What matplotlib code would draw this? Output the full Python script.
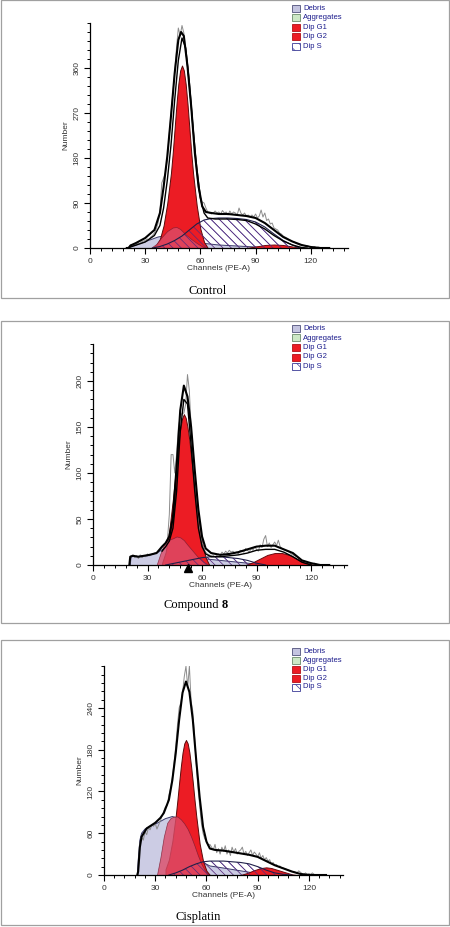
import matplotlib
matplotlib.use("Agg")
import matplotlib.pyplot as plt
from matplotlib.patches import Rectangle
from matplotlib.ticker import MultipleLocator
import numpy as np

W_PX, H_PX = 450, 927

# ---------------- Control ----------------
ctrl_raw = [0, 2, 6, 5, 8, 7, 10, 9, 12, 14, 15, 18, 17, 22, 25, 30, 38, 50, 72, 130,
            140, 150, 178, 225, 268, 310, 350, 400, 440, 425, 445, 430, 395, 365, 320, 285, 240, 190, 150, 118,
            100, 92, 90, 80, 72, 70, 68, 70, 74, 70, 72, 68, 75, 70, 72, 66, 74, 68, 72, 70,
            66, 80, 70, 66, 70, 64, 66, 62, 66, 62, 68, 60, 64, 76, 62, 70, 55, 58, 48, 50,
            40, 38, 36, 30, 28, 24, 22, 20, 17, 15, 13, 12, 9, 8, 6, 7, 5, 4, 5, 3,
            3, 2, 3, 1, 2, 1, 1, 0, 0]
ctrl_outer_ch = [20, 21, 22, 25, 30, 35, 38, 40, 42, 44, 46, 48, 49.5, 51, 53, 55, 57, 59, 61, 63,
                 66, 70, 75, 80, 85, 90, 95, 100, 105, 110, 115, 120, 125, 130]
ctrl_outer = [0, 0, 5, 10, 20, 36, 70, 122, 183, 263, 349, 416, 432, 424, 363, 283, 189, 123, 83, 72,
              70, 68, 68, 66, 64, 60, 50, 36, 22, 13, 6, 2, 0, 0]
ctrl_inner_ch = [22, 30, 35, 38, 40, 42, 44, 46, 48, 50, 52, 54, 56, 58, 60, 62, 64, 68, 75, 80,
                 85, 90, 95, 100, 105, 110, 115, 118]
ctrl_inner = [2, 12, 25, 45, 80, 135, 205, 295, 375, 420, 400, 330, 240, 160, 100, 70, 60, 58, 58, 57,
              55, 48, 38, 25, 14, 6, 1, 0]
ctrl_g1_ch = [34, 36, 38, 40, 42, 44, 45, 46, 47, 48, 49, 50, 51, 52, 53, 54, 55, 56, 58, 60, 62, 64]
ctrl_g1 = [0, 6, 18, 45, 90, 150, 192, 240, 288, 328, 355, 365, 355, 328, 288, 240, 192, 150, 85, 38, 12, 0]
ctrl_pink_ch = [33, 36, 39, 42, 45, 47, 49, 52, 55, 58, 61, 63]
ctrl_pink = [0, 8, 22, 34, 41, 42, 38, 27, 18, 10, 3, 0]
ctrl_debris_ch = [21, 22, 25, 28, 31, 34, 37, 40, 45, 50, 55, 60, 70, 80, 90, 95]
ctrl_debris = [0, 3, 6, 10, 14, 18, 22, 24, 22, 18, 14, 10, 6, 4, 2, 0]
ctrl_s_ch = [34, 38, 42, 46, 50, 54, 58, 62, 66, 70, 75, 80, 85, 90, 95, 100, 105, 110, 114]
ctrl_s = [0, 3, 8, 15, 24, 36, 48, 56, 59, 60, 60, 59, 57, 52, 42, 28, 15, 6, 0]
ctrl_g2_ch = [85, 90, 95, 100, 105, 110, 115]
ctrl_g2 = [0, 3, 6, 7, 6, 3, 0]
ctrl_yticks = [0, 90, 180, 270, 360]

# ---------------- Compound 8 ----------------
cmp_raw = [0, 10, 11, 8, 10, 7, 11, 8, 10, 9, 12, 10, 11, 12, 13, 13, 15, 17, 19, 22,
           24, 28, 55, 120, 120, 100, 120, 150, 160, 165, 165, 175, 207, 190, 150, 115, 95, 70, 50, 35,
           25, 18, 14, 12, 11, 10, 11, 9, 10, 12, 11, 14, 12, 15, 13, 16, 14, 15, 13, 14,
           12, 16, 15, 14, 18, 16, 14, 18, 16, 20, 17, 15, 22, 19, 28, 32, 20, 24, 19, 22,
           25, 21, 27, 20, 18, 17, 16, 15, 14, 12, 11, 10, 9, 8, 6, 5, 4, 3, 3, 2,
           2, 1, 2, 1, 0, 0, 0, 0, 0]
cmp_outer_ch = [20, 20.5, 22, 25, 28, 31, 35, 38, 40, 42, 44, 46, 48, 50, 52, 54, 56, 58, 60, 62,
                65, 70, 75, 80, 85, 90, 95, 100, 105, 110, 115, 120, 125, 130]
cmp_outer = [0, 9, 10, 9, 10, 11, 13, 20, 24, 31, 52, 107, 168, 195, 183, 150, 103, 60, 31, 18,
             13, 11, 12, 14, 17, 20, 21, 21, 17, 13, 5, 2, 0, 0]
cmp_inner_ch = [38, 40, 42, 44, 46, 48, 50, 52, 54, 56, 58, 60, 62, 65, 70, 80, 85, 90, 95, 100,
                105, 110, 115, 120]
cmp_inner = [15, 20, 26, 40, 80, 145, 180, 175, 130, 80, 40, 20, 12, 9, 9, 11, 13, 16, 17, 17,
             14, 9, 3, 0]
cmp_g1_ch = [38, 40, 42, 44, 45, 46, 47, 48, 49, 50, 51, 52, 53, 54, 55, 56, 58, 60, 62, 64]
cmp_g1 = [2, 14, 38, 72, 92, 113, 132, 148, 159, 164, 160, 150, 136, 118, 100, 82, 50, 24, 8, 0]
cmp_pink_ch = [35, 37, 39, 41, 44, 46, 48, 50, 52, 55, 58, 61, 64]
cmp_pink = [0, 12, 22, 27, 29, 31, 30, 27, 22, 15, 8, 3, 0]
cmp_debris_ch = [20.5, 21, 24, 27, 30, 33, 36, 39, 42, 46, 50, 60, 70, 80, 90, 95]
cmp_debris = [0, 10, 9, 10, 10, 12, 14, 18, 22, 18, 12, 7, 5, 3, 1, 0]
cmp_s_ch = [40, 45, 50, 55, 60, 65, 70, 75, 80, 85, 90, 95]
cmp_s = [0, 2, 4, 6, 8, 9, 9, 8, 7, 5, 2, 0]
cmp_g2_ch = [84, 88, 92, 96, 100, 104, 108, 112, 116, 120, 122]
cmp_g2 = [0, 3, 7, 11, 13, 13, 11, 7, 3, 1, 0]
cmp_yticks = [0, 50, 100, 150, 200]
cmp_marker_ch = 52.5

# ---------------- Cisplatin ----------------
cis_raw = [0, 45, 55, 50, 62, 58, 68, 65, 72, 70, 74, 66, 72, 78, 85, 92, 98, 100, 115, 125,
           140, 160, 185, 215, 240, 248, 262, 285, 300, 270, 300, 250, 235, 200, 160, 125, 100, 75, 60, 52,
           48, 42, 44, 40, 36, 44, 32, 38, 30, 40, 34, 42, 30, 36, 28, 40, 33, 38, 30, 34,
           36, 40, 30, 34, 28, 32, 36, 28, 33, 30, 26, 32, 24, 28, 22, 25, 20, 22, 16, 18,
           14, 15, 12, 13, 10, 10, 9, 8, 7, 6, 5, 5, 4, 3, 6, 4, 2, 1, 3, 1,
           2, 1, 3, 1, 0, 0, 0, 0, 0]
cis_outer_ch = [19.5, 20, 21, 22, 25, 30, 33, 35, 38, 40, 42, 44, 46, 48, 50, 52, 54, 56, 58, 60,
                62, 65, 70, 75, 80, 85, 90, 95, 100, 105, 110, 115, 120, 125, 130]
cis_outer = [0, 5, 40, 55, 67, 75, 82, 89, 108, 136, 175, 223, 262, 278, 263, 223, 165, 112, 69, 48,
             38, 36, 35, 33, 31, 29, 26, 20, 14, 9.5, 5, 1.5, 0, 0, 0]
cis_g1_ch = [36, 38, 40, 42, 43, 44, 45, 46, 47, 48, 49, 50, 51, 52, 53, 54, 56, 58, 60, 62]
cis_g1 = [8, 22, 48, 85, 108, 133, 156, 176, 189, 194, 189, 176, 156, 133, 108, 85, 45, 20, 6, 0]
cis_pink_ch = [31, 33, 35, 37, 39, 41, 43, 45, 47, 49, 51, 53, 55, 57, 59, 61]
cis_pink = [0, 25, 55, 75, 82, 84, 84, 80, 74, 66, 55, 42, 28, 16, 7, 0]
cis_debris_ch = [19.5, 20, 21, 22, 24, 27, 30, 33, 36, 40, 43, 46, 50, 54, 58, 62, 70, 80, 90, 95]
cis_debris = [0, 20, 50, 60, 66, 70, 73, 77, 81, 84, 82, 72, 50, 30, 18, 13, 10, 6, 2, 0]
cis_s_ch = [38, 42, 46, 50, 54, 58, 62, 66, 70, 75, 80, 85, 90, 95, 100, 105, 110]
cis_s = [0, 3, 7, 12, 16, 19, 20, 20, 20, 19, 18, 16, 12, 7, 3, 1, 0]
cis_g2_ch = [80, 84, 88, 92, 95, 98, 102, 106, 110, 113]
cis_g2 = [0, 3, 7, 10, 11, 10, 7, 4, 1, 0]
cis_yticks = [0, 60, 120, 180, 240]

legend_names = ['Debris', 'Aggregates', 'Dip G1', 'Dip G2', 'Dip S']

LAV = '#c4c4e0'
RED = '#ec1c24'
PINK = '#dc4c68'
NAVY = '#3a3a96'
HATCH = '\\\\\\\\'

plt.rcParams['font.family'] = ['Liberation Sans', 'DejaVu Sans']
plt.rcParams['hatch.linewidth'] = 0.5

fig = plt.figure(figsize=(W_PX / 100, H_PX / 100), dpi=100)


def fx(x):
    return x / W_PX


def fy(y):
    return 1 - y / H_PX


def frame(y0, y1):
    fig.add_artist(Rectangle((fx(0.5), fy(y1)), fx(448.5), (y1 - y0) / H_PX,
                             transform=fig.transFigure, fill=False, ec='#a0a0a0', lw=0.9))


def legend(rows):
    for name, ry in zip(legend_names, rows):
        kw = dict(transform=fig.transFigure, lw=0.6)
        if name == 'Debris':
            kw.update(fc=LAV, ec='#50507a')
        elif name == 'Aggregates':
            kw.update(fc='#cde8c6', ec='#6a8a6a')
        elif name == 'Dip S':
            kw.update(fc='white', ec=NAVY, hatch='\\\\\\')
        else:
            kw.update(fc=RED, ec='#b01018')
        fig.add_artist(Rectangle((fx(292), fy(ry + 3.5)), 8 / W_PX, 7 / H_PX, **kw))
        fig.text(fx(303), fy(ry), name, fontsize=5.5, color='#1c1c8c', va='center', ha='left')


def panel(left, y0, width, height, ymax, ytick, ymin_step, p):
    ax = fig.add_axes([fx(left), fy(y0), width / W_PX, height / H_PX])
    ax.set_xlim(0, 140)
    ax.set_ylim(0, ymax)
    for s in ['top', 'right']:
        ax.spines[s].set_visible(False)
    for s in ['left', 'bottom']:
        ax.spines[s].set_linewidth(0.9)
        ax.spines[s].set_zorder(20)
    ax.set_xticks([0, 30, 60, 90, 120])
    ax.xaxis.set_minor_locator(MultipleLocator(6))
    ax.set_yticks(ytick)
    ax.yaxis.set_minor_locator(MultipleLocator(ymin_step))
    ax.tick_params(which='major', direction='out', length=4, width=0.8, labelsize=6,
                   labelcolor='#333333', pad=3)
    ax.tick_params(which='minor', direction='out', length=2.5, width=0.7)
    for t in ax.get_yticklabels():
        t.set_rotation(90)
        t.set_va('center')
    ax.set_xlabel('Channels (PE-A)', fontsize=6, color='#333333')
    ax.xaxis.set_label_coords(0.5, -17 / height)
    ax.set_ylabel('Number', fontsize=6, color='#333333')
    ax.yaxis.set_label_coords(-21 / width, 0.5)

    # S phase base (white + hatch)
    ax.fill_between(p['s_ch'], 0, p['s'], facecolor='white', edgecolor=NAVY,
                    hatch=HATCH, lw=0, zorder=1)
    ax.fill_between(p['debris_ch'], 0, p['debris'], facecolor=LAV, alpha=0.85,
                    edgecolor='none', zorder=2)
    ax.plot(p['debris_ch'], p['debris'], color='#3a3a6a', lw=0.7, zorder=2.5)
    ax.fill_between(p['g2_ch'], 0, p['g2'], facecolor=RED, edgecolor='#6a0a10', lw=0.7, zorder=3)
    ax.fill_between(p['g1_ch'], 0, p['g1'], facecolor=RED, edgecolor='#5a0a0a', lw=0.7, zorder=3)
    ax.fill_between(p['pink_ch'], 0, p['pink'], facecolor=PINK, alpha=0.8,
                    edgecolor='#7a1a30', lw=0.5, zorder=4)
    ax.fill_between(p['s_ch'], 0, p['s'], facecolor='none', edgecolor='#5a2a7a',
                    hatch=HATCH, lw=0, zorder=5)
    ax.plot(p['s_ch'], p['s'], color='#20204a', lw=0.8, zorder=6)
    ax.plot(np.arange(20, 20 + len(p['raw'])), p['raw'], color='#8c8c8c', lw=0.7, zorder=7)
    if p.get('inner_ch') is not None:
        ax.plot(p['inner_ch'], p['inner'], color='black', lw=1.0, zorder=8)
    ax.plot(p['outer_ch'], p['outer'], color='black', lw=1.5, zorder=9)
    return ax


ctrl = dict(raw=ctrl_raw, outer_ch=ctrl_outer_ch, outer=ctrl_outer, inner_ch=ctrl_inner_ch,
            inner=ctrl_inner, g1_ch=ctrl_g1_ch, g1=ctrl_g1, pink_ch=ctrl_pink_ch, pink=ctrl_pink,
            debris_ch=ctrl_debris_ch, debris=ctrl_debris, s_ch=ctrl_s_ch, s=ctrl_s,
            g2_ch=ctrl_g2_ch, g2=ctrl_g2)
cmpd = dict(raw=cmp_raw, outer_ch=cmp_outer_ch, outer=cmp_outer, inner_ch=cmp_inner_ch,
            inner=cmp_inner, g1_ch=cmp_g1_ch, g1=cmp_g1, pink_ch=cmp_pink_ch, pink=cmp_pink,
            debris_ch=cmp_debris_ch, debris=cmp_debris, s_ch=cmp_s_ch, s=cmp_s,
            g2_ch=cmp_g2_ch, g2=cmp_g2)
cis = dict(raw=cis_raw, outer_ch=cis_outer_ch, outer=cis_outer, inner_ch=None,
           g1_ch=cis_g1_ch, g1=cis_g1, pink_ch=cis_pink_ch, pink=cis_pink,
           debris_ch=cis_debris_ch, debris=cis_debris, s_ch=cis_s_ch, s=cis_s,
           g2_ch=cis_g2_ch, g2=cis_g2)

# panel 1
frame(0, 298)
panel(90, 248, 257.6, 225, 450, ctrl_yticks, 18, ctrl)
legend([8, 17.7, 27.3, 36.7, 46.3])
fig.text(fx(208), fy(291), 'Control', family='Liberation Serif', fontsize=9,
         ha='center', va='center')

# panel 2
frame(321, 623)
ax2 = panel(93, 565, 254.4, 220.8, 240, cmp_yticks, 10, cmpd)
ax2.plot([cmp_marker_ch], [-0.014], marker='^', color='black', markersize=5.5,
         transform=ax2.get_xaxis_transform(), clip_on=False, zorder=30)
legend([328.3, 338, 347.3, 357, 366.3])
fig.text(fx(163), fy(605), 'Compound', family='Liberation Serif', fontsize=9,
         ha='left', va='center')
fig.text(fx(222), fy(605), '8', family='Liberation Serif', fontsize=9,
         weight='bold', ha='left', va='center')

# panel 3
frame(640, 925)
panel(104, 875, 239.1, 208.8, 300, cis_yticks, 12, cis)
legend([651.7, 660.7, 669.3, 678.3, 687])
fig.text(fx(198), fy(917), 'Cisplatin', family='Liberation Serif', fontsize=9,
         ha='center', va='center')

fig.savefig('out.png', dpi=100)
